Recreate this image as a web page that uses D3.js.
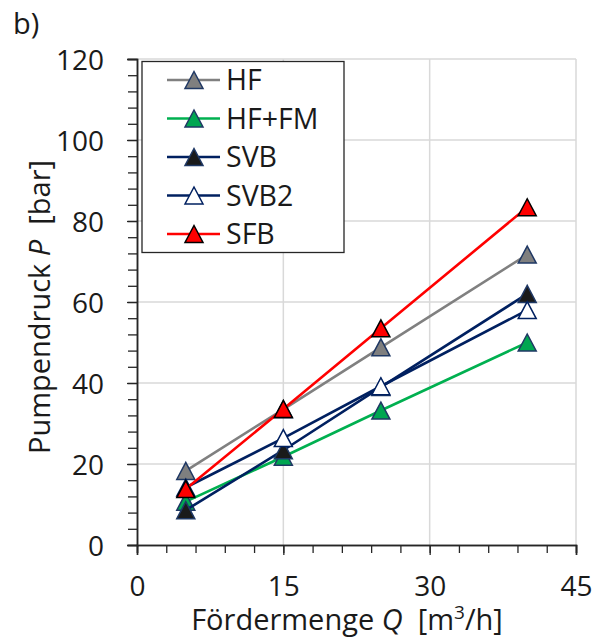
<!DOCTYPE html>
<html><head><meta charset="utf-8">
<script src="https://cdn.jsdelivr.net/npm/d3@7"></script>
<style>body{margin:0;background:#fff}svg{display:block;font-family:"Open Sans",sans-serif}</style>
</head><body>
<svg id="c" width="601" height="638"></svg>
<script>
const xValues = [5, 15, 25, 40];
const seriesNames = ["HF", "HF+FM", "SVB", "SVB2", "SFB"];
const hfValues = [18.3, 33.5, 48.8, 71.7];
const hfFmValues = [10.7, 21.8, 33.2, 50.0];
const svbValues = [8.6, 23.4, 39.0, 62.0];
const svb2Values = [14.2, 26.4, 39.2, 58.0];
const sfbValues = [13.8, 33.6, 53.5, 83.4];
const xTicks = [0, 15, 30, 45];
const yTicks = [0, 20, 40, 60, 80, 100, 120];

const styles = [
  {line:"#808080", fill:"#7f7f7f", stroke:"#1f3864"},
  {line:"#00b050", fill:"#00a651", stroke:"#1f3864"},
  {line:"#002060", fill:"#1a1a1a", stroke:"#1f3864"},
  {line:"#002060", fill:"#ffffff", stroke:"#002060"},
  {line:"#ff0000", fill:"#ff0000", stroke:"#000000"}
];
const allValues = [hfValues, hfFmValues, svbValues, svb2Values, sfbValues];

const svg = d3.select("#c");
const x = d3.scaleLinear().domain([0,45]).range([137,576]);
const y = d3.scaleLinear().domain([0,120]).range([545,59]);

// gridlines
const grid = svg.append("g");
grid.selectAll(".gx").data(xTicks.slice(1)).enter().append("line")
  .attr("x1",d=>x(d)).attr("x2",d=>x(d)).attr("y1",y(0)).attr("y2",y(120))
  .attr("stroke","#d9d9d9").attr("stroke-width",1.5);
grid.selectAll(".gy").data(yTicks.slice(1)).enter().append("line")
  .attr("x1",x(0)).attr("x2",x(45)).attr("y1",d=>y(d)).attr("y2",d=>y(d))
  .attr("stroke","#d9d9d9").attr("stroke-width",1.5);

// axes
const xMinor = d3.range(0,46,3);
const yMinor = d3.range(0,121,4);
const xAxisMinor = d3.axisBottom(x).tickValues(xMinor).tickSize(8).tickFormat("");
const xAxis = d3.axisBottom(x).tickValues(xTicks).tickSize(10).tickFormat(d3.format("d"));
const yAxisMinor = d3.axisLeft(y).tickValues(yMinor).tickSize(9).tickFormat("");
const yAxis = d3.axisLeft(y).tickValues(yTicks).tickSize(10).tickFormat(d3.format("d"));

function styleAxis(g){
  g.selectAll("path").attr("stroke","#262626").attr("stroke-width",1.5);
  g.selectAll("line").attr("stroke","#262626").attr("stroke-width",1.3);
  g.selectAll("text").attr("fill","#1a1a1a").attr("font-size",28).attr("font-family","Open Sans, sans-serif");
}
svg.append("g").attr("transform",`translate(0,${y(0)})`).call(xAxisMinor).call(styleAxis);
const gx = svg.append("g").attr("transform",`translate(0,${y(0)})`).call(xAxis).call(styleAxis);
gx.selectAll("text").attr("y",31).attr("dy","0.71em");
svg.append("g").attr("transform",`translate(${x(0)},0)`).call(yAxisMinor).call(styleAxis);
const gy = svg.append("g").attr("transform",`translate(${x(0)},0)`).call(yAxis).call(styleAxis);
gy.selectAll("text").attr("x",-33).attr("dy","0.36em");

// triangle path
function tri(cx, cy, w=18, h=17){
  return `M${cx},${cy-h/2}L${cx+w/2},${cy+h/2}L${cx-w/2},${cy+h/2}Z`;
}

const line = d3.line().x((d,i)=>x(xValues[i])).y(d=>y(d));
allValues.forEach((vals, si)=>{
  const st = styles[si];
  svg.append("path").attr("d", line(vals)).attr("fill","none")
    .attr("stroke", st.line).attr("stroke-width", 2.6);
  svg.append("g").selectAll("path").data(vals).enter().append("path")
    .attr("d",(d,i)=>tri(x(xValues[i]), y(d)))
    .attr("fill", st.fill).attr("stroke", st.stroke).attr("stroke-width",1.5)
    .attr("stroke-linejoin","miter");
});

// legend
const lg = svg.append("g");
lg.append("rect").attr("x",142).attr("y",61.5).attr("width",202).attr("height",191)
  .attr("fill","#fff").attr("stroke","#262626").attr("stroke-width",1.3);
const rowY = d3.scalePoint().domain(seriesNames).range([80,234]);
seriesNames.forEach((n,i)=>{
  const st = styles[i], yy = rowY(n);
  lg.append("line").attr("x1",167).attr("x2",220).attr("y1",yy).attr("y2",yy)
    .attr("stroke",st.line).attr("stroke-width",2.6);
  lg.append("path").attr("d",tri(194,yy)).attr("fill",st.fill).attr("stroke",st.stroke).attr("stroke-width",1.5);
  lg.append("text").attr("x",226).attr("y",yy+10).attr("font-size",28.5).attr("fill","#1a1a1a").text(n);
});

// axis titles
const xt = svg.append("text").attr("x",347).attr("y",630).attr("text-anchor","middle")
  .attr("font-size",29).attr("fill","#1a1a1a").attr("xml:space","preserve");
xt.append("tspan").text("Fördermenge ");
xt.append("tspan").attr("font-style","italic").text("Q");
xt.append("tspan").text("\u00a0 [m");
xt.append("tspan").attr("font-size",19).attr("dy",-11).text("3");
xt.append("tspan").attr("dy",11).text("/h]");

const yt = svg.append("text").attr("transform","translate(50,307) rotate(-90)")
  .attr("text-anchor","middle").attr("font-size",29).attr("fill","#1a1a1a");
yt.append("tspan").text("Pumpendruck ");
yt.append("tspan").attr("font-style","italic").text("P");
yt.append("tspan").text("\u00a0 [bar]");

svg.append("text").attr("x",13).attr("y",34).attr("font-size",29).attr("fill","#1a1a1a").text("b)");
</script>
</body></html>
